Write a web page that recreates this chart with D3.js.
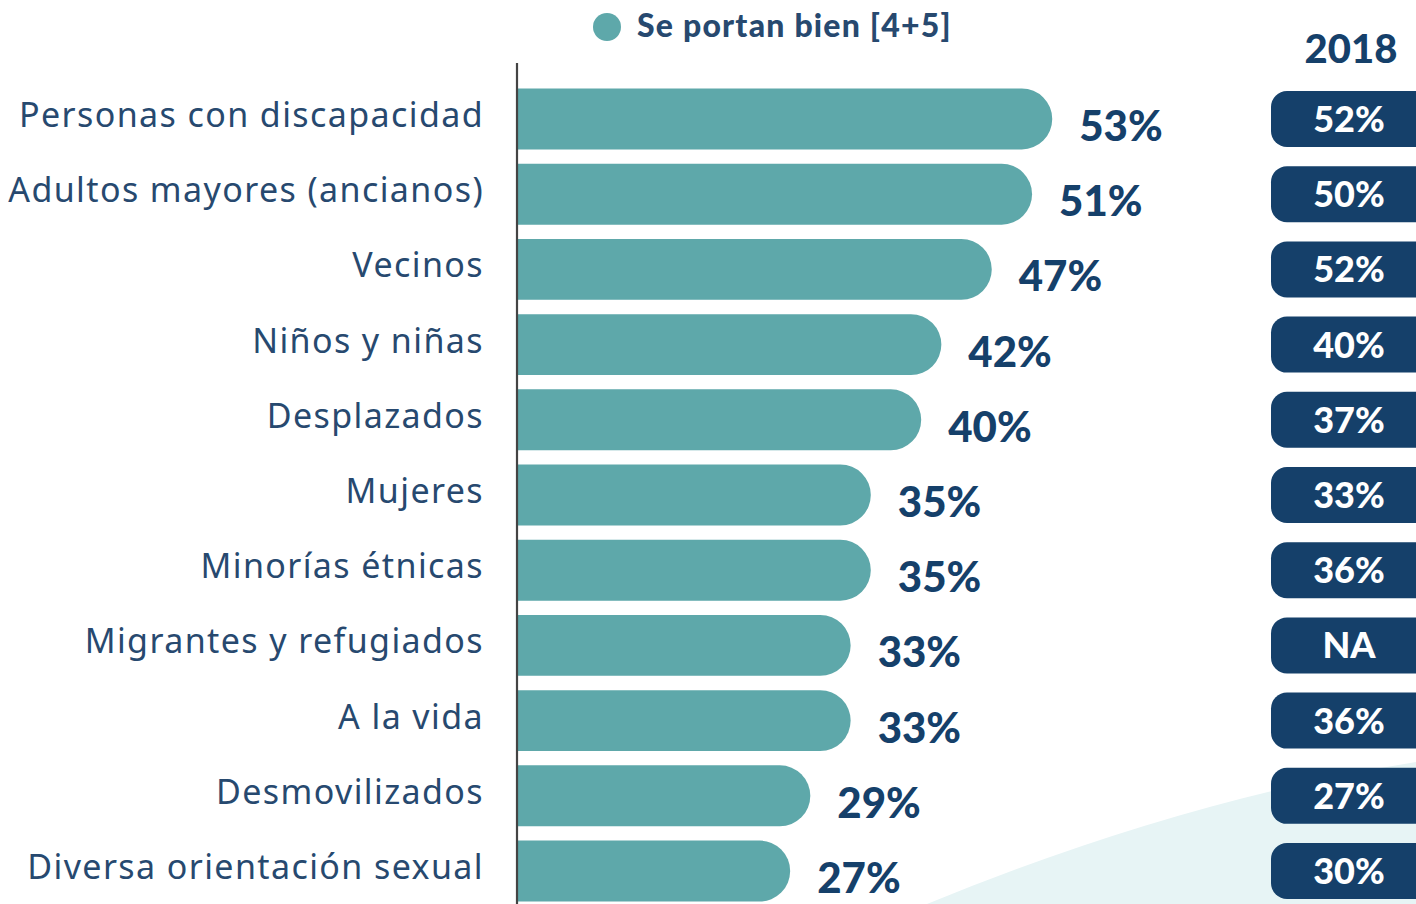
<!DOCTYPE html>
<html>
<head>
<meta charset="utf-8">
<script src="https://cdn.jsdelivr.net/npm/d3@7"></script>
<style>
  html, body { margin: 0; padding: 0; background: #fff; }
  svg { display: block; }
</style>
</head>
<body>
<svg id="chart" width="1416" height="904"></svg>
<script>
const CATEGORIES = [
  "Personas con discapacidad", "Adultos mayores (ancianos)", "Vecinos", "Niños y niñas",
  "Desplazados", "Mujeres", "Minorías étnicas", "Migrantes y refugiados",
  "A la vida", "Desmovilizados", "Diversa orientación sexual"
];
const VALUES = [53, 51, 47, 42, 40, 35, 35, 33, 33, 29, 27];
const PREV_2018 = ["52%", "50%", "52%", "40%", "37%", "33%", "36%", "NA", "36%", "27%", "30%"];
const LEGEND_LABEL = "Se portan bien [4+5]";
const PREV_YEAR = "2018";

const W = 1416, H = 904;
const TEAL = "#5ea8aa";
const NAVY = "#15406a";
const LABEL = "#27496f";

const svg = d3.select("#chart");

// light background swoosh bottom-right
svg.append("path")
  .attr("d", "M927,904 Q1180,800 1416,762 L1416,904 Z")
  .attr("fill", "#e7f4f5");

const x = d3.scaleLinear().domain([0, 100]).range([518, 1526]);
const y = d3.scaleBand().domain(CATEGORIES).range([81, 909]).paddingInner(0.19).paddingOuter(0.1);
const bh = y.bandwidth();

// bars with rounded right end
function barPath(v, cat) {
  const x0 = x(0), x1 = x(v), y0 = y(cat), r = bh / 2;
  return `M${x0},${y0} H${x1 - r} A${r},${r} 0 0 1 ${x1 - r},${y0 + bh} H${x0} Z`;
}

svg.append("g").selectAll("path").data(VALUES).enter().append("path")
  .attr("d", (d, i) => barPath(d, CATEGORIES[i]))
  .attr("fill", TEAL);

// axis line
svg.append("line")
  .attr("x1", 517).attr("x2", 517)
  .attr("y1", 63).attr("y2", H)
  .attr("stroke", "#444").attr("stroke-width", 2.2);

// category labels
svg.append("g").selectAll("text").data(CATEGORIES).enter().append("text")
  .attr("x", 484)
  .attr("y", d => y(d) + bh / 2 + 8)
  .attr("text-anchor", "end")
  .attr("font-family", "'Noto Sans', sans-serif")
  .attr("font-size", 34)
  .attr("letter-spacing", 1.4)
  .attr("fill", LABEL)
  .text(d => d);

// value labels
svg.append("g").selectAll("text").data(VALUES).enter().append("text")
  .attr("x", d => x(d) + 27)
  .attr("y", (d, i) => y(CATEGORIES[i]) + bh / 2 + 22)
  .attr("font-family", "Lato, sans-serif")
  .attr("font-weight", 900)
  .attr("font-size", 42)
  .attr("fill", NAVY)
  .text(d => d + "%");

// legend
svg.append("circle").attr("cx", 607).attr("cy", 27).attr("r", 14).attr("fill", TEAL);
svg.append("text")
  .attr("x", 637).attr("y", 37)
  .attr("font-family", "Lato, sans-serif")
  .attr("font-weight", 900)
  .attr("font-size", 32)
  .attr("letter-spacing", 1.2)
  .attr("fill", LABEL)
  .text(LEGEND_LABEL);

// 2018 column
svg.append("text")
  .attr("x", 1351).attr("y", 63)
  .attr("text-anchor", "middle")
  .attr("font-family", "Lato, sans-serif")
  .attr("font-weight", 900)
  .attr("font-size", 40)
  .attr("fill", NAVY)
  .text(PREV_YEAR);

const pills = svg.append("g").selectAll("g").data(PREV_2018).enter().append("g")
  .attr("transform", (d, i) => `translate(0,${y(CATEGORIES[i]) + bh / 2})`);

pills.append("rect")
  .attr("x", 1271).attr("y", -28)
  .attr("width", 180).attr("height", 56)
  .attr("rx", 16)
  .attr("fill", NAVY);

pills.append("text")
  .attr("x", 1349).attr("y", 13)
  .attr("text-anchor", "middle")
  .attr("font-family", "Lato, sans-serif")
  .attr("font-weight", 900)
  .attr("font-size", 36)
  .attr("fill", "#fff")
  .text(d => d);
</script>
</body>
</html>
